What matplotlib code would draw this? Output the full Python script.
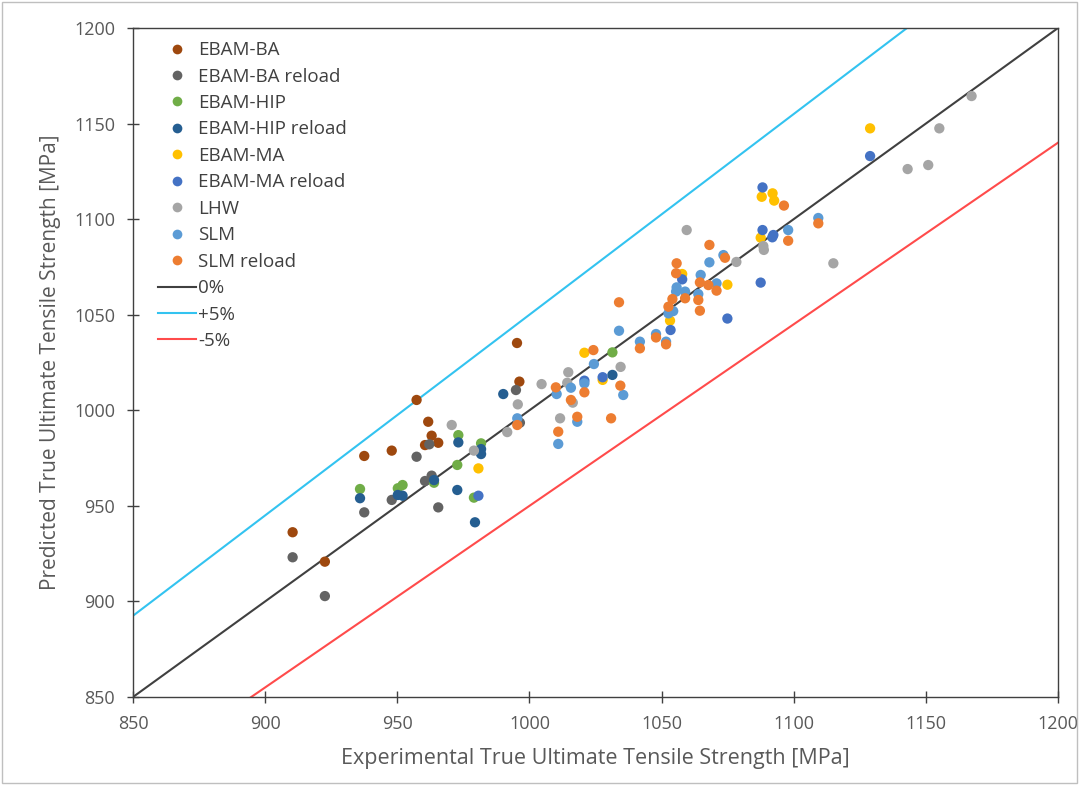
import matplotlib
matplotlib.use("Agg")
import matplotlib.pyplot as plt
from matplotlib.lines import Line2D
from matplotlib.patches import Rectangle

plt.rcParams['font.family'] = ['Open Sans', 'DejaVu Sans']

# ---------------- data ----------------
ba_x = [957.3, 961.7, 963.0, 960.5, 965.5, 937.5, 947.9, 910.4, 922.6, 996.2, 995.3]
ba_y = [1005.4, 994.0, 986.7, 981.8, 983.0, 976.1, 978.9, 936.2, 920.8, 1015.0, 1035.2]

bar_x = [962.1, 957.3, 937.5, 947.9, 960.5, 963.0, 965.5, 910.4, 922.6, 994.9, 996.4]
bar_y = [982.2, 975.7, 946.6, 953.1, 963.0, 965.8, 949.2, 923.1, 902.8, 1010.6, 993.5]

hip_x = [973.1, 981.7, 972.7, 935.9, 950.2, 952.0, 963.9, 979.0, 1031.4]
hip_y = [987.0, 982.7, 971.4, 958.8, 959.2, 960.9, 962.1, 954.3, 1030.3]

hipr_x = [973.1, 981.7, 981.7, 935.9, 950.2, 952.0, 963.9, 972.7, 979.4, 990.1, 1031.4]
hipr_y = [983.2, 979.7, 977.1, 954.0, 955.7, 955.3, 963.5, 958.3, 941.4, 1008.5, 1018.5]

ma_x = [980.7, 1020.8, 1027.7, 1057.8, 1074.9, 1053.2, 1087.5, 1128.9, 1087.9, 1092.0, 1092.6]
ma_y = [969.6, 1030.1, 1015.9, 1071.3, 1065.7, 1046.9, 1090.3, 1147.5, 1111.7, 1113.5, 1109.7]

mar_x = [980.7, 1020.8, 1027.7, 1053.4, 1057.8, 1074.9, 1087.5, 1088.2, 1088.2, 1092.3, 1091.9, 1128.9]
mar_y = [955.3, 1015.5, 1017.3, 1042.0, 1068.5, 1048.0, 1066.8, 1116.6, 1094.3, 1091.7, 1090.5, 1133.0]

lhw_x = [970.6, 979.0, 995.6, 991.6, 1014.7, 1004.6, 1014.3, 1034.5, 1011.6, 1016.4,
         1059.5, 1078.3, 1088.5, 1088.7, 1167.3, 1155.1, 1150.9, 1143.1, 1115.0]
lhw_y = [992.3, 978.9, 1003.1, 988.6, 1019.9, 1013.7, 1014.4, 1022.7, 995.8, 1004.0,
         1094.3, 1077.6, 1085.9, 1083.9, 1164.4, 1147.5, 1128.3, 1126.2, 1076.9]

slm_x = [1024.4, 1010.3, 1015.7, 1020.8, 1018.1, 995.4, 1010.9, 1033.9, 1041.8, 1047.9,
         1051.7, 1035.5, 1068.1, 1073.4, 1064.8, 1070.8, 1055.7, 1055.5, 1058.9, 1063.9,
         1052.6, 1054.4, 1109.3, 1097.9]
slm_y = [1024.2, 1008.5, 1011.8, 1014.1, 994.0, 995.8, 982.4, 1041.6, 1035.9, 1039.9,
         1035.9, 1008.0, 1077.4, 1081.2, 1070.8, 1066.4, 1064.3, 1062.1, 1062.1, 1060.8,
         1050.7, 1051.9, 1100.6, 1094.3]

slmr_x = [1024.2, 1010.0, 1015.7, 1020.8, 1034.4, 1018.1, 1030.9, 995.4, 1010.9, 1033.9,
          1041.8, 1047.9, 1051.7, 1068.1, 1074.0, 1055.7, 1055.5, 1064.5, 1067.7, 1070.8,
          1058.9, 1063.9, 1064.5, 1054.1, 1052.6, 1096.3, 1109.3, 1097.9]
slmr_y = [1031.5, 1012.0, 1005.4, 1009.4, 1012.9, 996.6, 995.8, 992.3, 988.8, 1056.5,
          1032.4, 1038.1, 1034.5, 1086.5, 1079.8, 1076.9, 1071.7, 1066.9, 1065.5, 1062.6,
          1058.6, 1057.7, 1052.1, 1058.2, 1054.2, 1107.1, 1097.8, 1088.7]

series = [
    ("EBAM-BA", ba_x, ba_y, "#9e480e"),
    ("EBAM-BA reload", bar_x, bar_y, "#636363"),
    ("EBAM-HIP", hip_x, hip_y, "#70ad47"),
    ("EBAM-HIP reload", hipr_x, hipr_y, "#255e91"),
    ("EBAM-MA", ma_x, ma_y, "#ffc000"),
    ("EBAM-MA reload", mar_x, mar_y, "#4472c4"),
    ("LHW", lhw_x, lhw_y, "#a5a5a5"),
    ("SLM", slm_x, slm_y, "#5b9bd5"),
    ("SLM reload", slmr_x, slmr_y, "#ed7d31"),
]

lim = [850, 1200]
lines = [("0%", 1.00, "#404040"), ("+5%", 1.05, "#33c3f0"), ("-5%", 0.95, "#ff4b4b")]

# ---------------- figure ----------------
fig = plt.figure(figsize=(10.82, 7.89), dpi=100)
ax = fig.add_axes([133/1082, 1 - 697/789, 925/1082, 669/789])

handles = []
for name, xs, ys, c in series:
    ax.scatter(xs, ys, s=55, color=c, edgecolors='none', zorder=3)
    handles.append(Line2D([], [], marker='o', linestyle='none', markersize=7,
                          markerfacecolor=c, markeredgecolor='none', label=name))

xx = [lim[0], lim[1]]
for name, k, c in lines:
    ax.plot(xx, [k * v for v in xx], color=c, lw=1.5, zorder=2)
    handles.append(Line2D([], [], color=c, lw=1.5, label=name))

ax.set_xlim(lim)
ax.set_ylim(lim)
ax.set_xticks(range(850, 1201, 50))
ax.set_yticks(range(850, 1201, 50))
ax.tick_params(direction='inout', length=8, width=1, colors='#404040',
               labelcolor='#595959', labelsize=13)
ax.tick_params(axis='x', pad=9)
ax.tick_params(axis='y', pad=9)
for s in ax.spines.values():
    s.set_color('#404040')
    s.set_linewidth(1)

ax.set_xlabel("Experimental True Ultimate Tensile Strength [MPa]", fontsize=15.5,
              color='#595959', labelpad=11)
ax.set_ylabel("Predicted True Ultimate Tensile Strength [MPa]", fontsize=15,
              color='#595959', labelpad=9)

leg = ax.legend(handles=handles, loc='upper left', bbox_to_anchor=(0.013, 1.0),
                frameon=False, fontsize=13.5, labelspacing=0.45, handlelength=2.0,
                handletextpad=0.15, borderaxespad=0.3)
for t in leg.get_texts():
    t.set_color('#404040')

fig.patches.append(Rectangle((0.002, 0.008), 0.993, 0.99, transform=fig.transFigure,
                             fill=False, edgecolor='#bfbfbf', lw=1))

fig.savefig("out.png", dpi=100)
